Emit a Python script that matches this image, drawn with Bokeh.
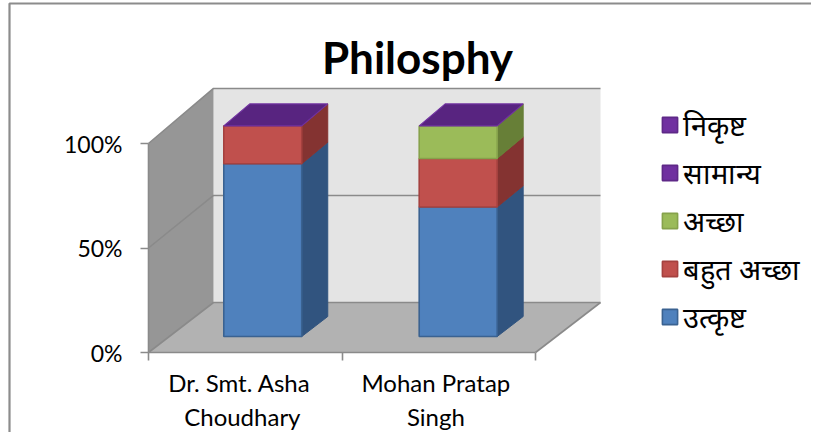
from bokeh.embed import file_html
from bokeh.resources import INLINE
from bokeh.plotting import figure
from bokeh.models import (ColumnDataSource, FixedTicker, Legend, LegendItem, LinearAxis,
                          BoxAnnotation, Label)

title = "Philosphy"
categories = ["Dr. Smt.  Asha\nChoudhary", "Mohan Pratap\nSingh"]
utkrisht = [82, 61.5]
bahut_accha = [18, 23]
accha = [0, 15.5]
samanya = [0, 0]
nikrisht = [0, 0]
series_names = ["उत्कृष्ट", "बहुत अच्छा", "अच्छा", "सामान्य", "निकृष्ट"]
series_values = [utkrisht, bahut_accha, accha, samanya, nikrisht]
front_colors = ["#4f81bd", "#c0504d", "#9bbb59", "#7030a0", "#7030a0"]
side_colors = ["#31547f", "#843331", "#677f37", "#4f2272", "#4f2272"]
edge_colors = ["#3a6291", "#a5413f", "#86a24b", "#5e2887", "#5e2887"]
y_ticks = [0, 50, 100]

FONT = "Lato"
PX_X = 193.5            # px per category
PX_Y = 2.09             # px per percent
DX = 65 / PX_X          # full depth of floor, in x units
DY = 50 / PX_Y          # full depth of floor, in percent units
PERSP = 1.024           # back of the box is slightly taller
BAR_W = 0.403
BAR_CENTERS = [0.483, 1.493]
LABEL_TICKS = [0.485, 1.485]
D0, D1 = 0.32, 0.72

W, H = 811, 432
p = figure(width=W, height=H, output_backend="svg", toolbar_location=None,
           x_range=(-148 / PX_X, (W - 148) / PX_X),
           y_range=(-(H - 352) / PX_Y, 352 / PX_Y),
           x_axis_type=None, y_axis_type=None, min_border=0,
           min_border_left=0, min_border_right=0, min_border_top=0, min_border_bottom=0,
           outline_line_color=None, background_fill_color="white", border_fill_color="white")
p.grid.visible = False


def proj(x, v, d):
    return x + d * DX, v * (1 + (PERSP - 1) * d) + d * DY


def quad(pts):
    return [q[0] for q in pts], [q[1] for q in pts]


# box walls
n = 2
top = y_ticks[-1]
corners = {
    "left": [proj(0, 0, 0), proj(0, top, 0), proj(0, top, 1), proj(0, 0, 1)],
    "back": [proj(0, 0, 1), proj(0, top, 1), proj(n, top, 1), proj(n, 0, 1)],
    "floor": [proj(0, 0, 0), proj(0, 0, 1), proj(n, 0, 1), proj(n, 0, 0)],
}
WALL_LINE = "#8a8a8a"
for key, col in (("back", "#e4e4e4"), ("left", "#969696"), ("floor", "#b2b2b2")):
    xs, ys = quad(corners[key])
    p.patch(xs, ys, fill_color=col, line_color=None)

# wall lines
for t in y_ticks:
    a, b, c = proj(0, t, 0), proj(0, t, 1), proj(n, t, 1)
    p.line([a[0], b[0], c[0]], [a[1], b[1], c[1]], line_color=WALL_LINE, line_width=1.6)
a, b = proj(n, 0, 1), proj(n, 0, 0)
p.line([a[0], b[0]], [a[1], b[1]], line_color=WALL_LINE, line_width=1.6)

# stacked bars
legend_items = []
base = [0.0] * n
nan = float("nan")
for k, vals in enumerate(series_values):
    fx, fy, sx, sy = [], [], [], []
    for i, v in enumerate(vals):
        if v <= 0:
            continue
        xc = BAR_CENTERS[i]
        x0, x1 = xc - BAR_W / 2, xc + BAR_W / 2
        y0, y1 = base[i], base[i] + v
        xs, ys = quad([proj(x0, y0, D0), proj(x1, y0, D0), proj(x1, y1, D0), proj(x0, y1, D0)])
        fx.append(xs); fy.append(ys)
        xs, ys = quad([proj(x1, y0, D0), proj(x1, y0, D1), proj(x1, y1, D1), proj(x1, y1, D0)])
        sx.append(xs); sy.append(ys)
        base[i] += v
    p.patches(sx, sy, fill_color=side_colors[k], line_color=side_colors[k], line_width=1)
    p.patches(xs="xs", ys="ys", source=ColumnDataSource(dict(xs=fx, ys=fy)),
              fill_color=front_colors[k], line_color=edge_colors[k], line_width=1.6)
    # legend key: the series may have no visible segment, so it gets its own swatch renderer
    key = p.quad(left=[nan], right=[nan], top=[nan], bottom=[nan],
                 fill_color=front_colors[k], line_color=edge_colors[k], line_width=1.6)
    legend_items.append(LegendItem(label=series_names[k], renderers=[key]))

# top faces
tx, ty = [], []
for i in range(n):
    xc = BAR_CENTERS[i]
    x0, x1 = xc - BAR_W / 2, xc + BAR_W / 2
    xs, ys = quad([proj(x0, base[i], D0), proj(x1, base[i], D0),
                   proj(x1, base[i], D1), proj(x0, base[i], D1)])
    tx.append(xs); ty.append(ys)
p.patches(tx, ty, fill_color="#582480", line_color="#7030a0", line_width=1.2)

# axes
yaxis = LinearAxis(fixed_location=0, ticker=FixedTicker(ticks=y_ticks), bounds=(0, 100),
                   major_label_overrides={t: f"{t}%" for t in y_ticks})
yaxis.axis_line_color = WALL_LINE
yaxis.axis_line_width = 1.6
yaxis.major_tick_line_color = WALL_LINE
yaxis.major_tick_line_width = 1.6
yaxis.major_tick_out = 8
yaxis.major_tick_in = 0
yaxis.minor_tick_line_color = None
yaxis.major_label_text_font = FONT
yaxis.major_label_text_font_size = "23px"
yaxis.major_label_text_color = "#000000"
yaxis.major_label_standoff = 18
p.add_layout(yaxis, "left")

xticks = LinearAxis(fixed_location=0, ticker=FixedTicker(ticks=list(range(n + 1))), bounds=(0, n))
xticks.axis_line_color = WALL_LINE
xticks.axis_line_width = 1.6
xticks.major_tick_line_color = WALL_LINE
xticks.major_tick_line_width = 1.6
xticks.major_tick_out = 8
xticks.major_tick_in = 0
xticks.minor_tick_line_color = None
xticks.major_label_text_font_size = "0px"
xticks.major_label_text_color = None
p.add_layout(xticks, "below")

xlabels = LinearAxis(fixed_location=0, ticker=FixedTicker(ticks=LABEL_TICKS),
                     major_label_overrides=dict(zip(LABEL_TICKS, categories)))
xlabels.axis_line_color = None
xlabels.major_tick_line_color = None
xlabels.minor_tick_line_color = None
xlabels.major_label_text_font = FONT
xlabels.major_label_text_font_size = "24px"
xlabels.major_label_text_color = "#000000"
xlabels.major_label_standoff = 9
p.add_layout(xlabels, "below")

# chart border
p.add_layout(BoxAnnotation(left=9, right=W + 10, top=3, bottom=H + 10,
                           left_units="canvas", right_units="canvas",
                           top_units="canvas", bottom_units="canvas",
                           fill_color=None, fill_alpha=0,
                           line_color="#8c8c8c", line_alpha=1, line_width=2.2))

# title
p.add_layout(Label(x=417, y=56, x_units="canvas", y_units="canvas", text=title,
                   text_font=FONT, text_font_style="bold", text_font_size="44px",
                   text_color="#000000", text_align="center", text_baseline="middle"))

# legend
legend = Legend(items=legend_items[::-1], location=(660, 96),
                background_fill_alpha=0, border_line_color=None,
                glyph_width=19, glyph_height=19, label_standoff=4,
                spacing=9, padding=0, margin=0,
                label_text_font=FONT, label_text_font_size="29px", label_text_color="#000000",
                label_height=28)
p.add_layout(legend, "center")

open("out.html", "w").write(file_html(p, INLINE))
